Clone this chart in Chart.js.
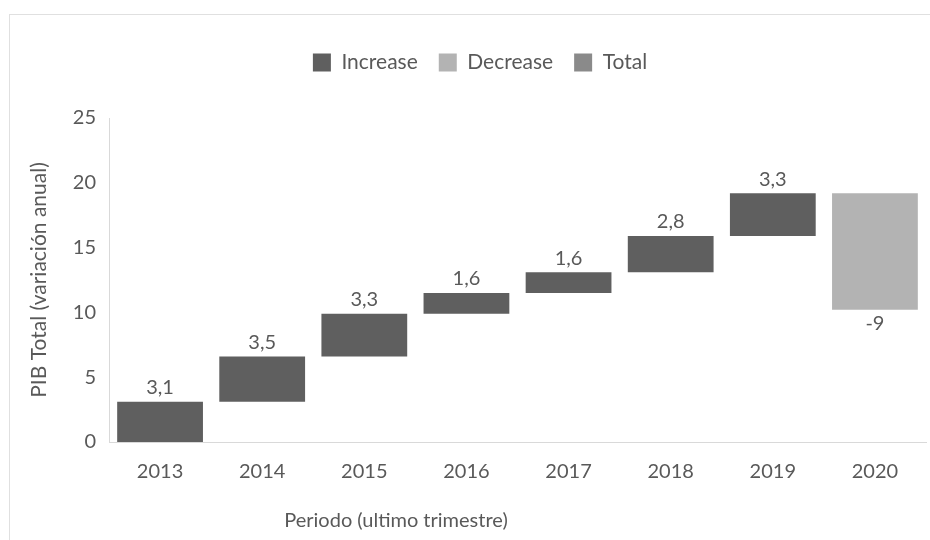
<!DOCTYPE html>
<html lang="es">
<head>
  <meta charset="UTF-8">
  <title>PIB Total - cascada</title>
  <script src="https://cdn.jsdelivr.net/npm/chart.js"></script>
  <style>
    html, body {
      margin: 0;
      padding: 0;
      background: #fff;
      overflow: hidden;
    }
    .frame {
      position: absolute;
      left: 9px;
      top: 14px;
      width: 1000px;
      height: 1000px;
      border: 1px solid #e0e0e0;
    }
    .wrap {
      position: absolute;
      left: 0;
      top: 0;
      width: 930px;
      height: 540px;
    }
  </style>
</head>
<body>
  <div class="frame"></div>
  <div class="wrap"><canvas id="chart" width="930" height="540"></canvas></div>

  <script>
    // data
    const years = ['2013', '2014', '2015', '2016', '2017', '2018', '2019', '2020'];
    const changes = [3.1, 3.5, 3.3, 1.6, 1.6, 2.8, 3.3, -9];
    const yTicks = [0, 5, 10, 15, 20, 25];

    const textColor = '#595959';
    const font = 'Lato';
    const xTitle = 'Periodo (ultimo trimestre)';

    // floating bars for the waterfall
    let running = 0;
    const incData = [], decData = [];
    changes.forEach(v => {
      const start = running;
      running += v;
      incData.push(v >= 0 ? [start, running] : null);
      decData.push(v < 0 ? [start, running] : null);
    });

    // labels above / below each step, plus the x title (it sits left of centre in the original)
    const stepLabels = {
      id: 'stepLabels',
      afterDatasetsDraw(chart) {
        const ctx = chart.ctx;
        ctx.save();
        ctx.font = '20px ' + font;
        ctx.fillStyle = textColor;
        ctx.textAlign = 'center';
        ctx.textBaseline = 'middle';
        [0, 1].forEach(di => {
          const meta = chart.getDatasetMeta(di);
          meta.data.forEach((bar, i) => {
            if (!chart.data.datasets[di].data[i]) return;
            const v = changes[i];
            const txt = String(v).replace('.', ',');
            const top = Math.min(bar.y, bar.base);
            const bottom = Math.max(bar.y, bar.base);
            if (v >= 0) ctx.fillText(txt, bar.x, top - 14);
            else ctx.fillText(txt, bar.x, bottom + 14);
          });
        });
        ctx.fillText(xTitle, 396, 521);
        ctx.restore();
      }
    };

    // push the plot down below the legend and nudge the legend right
    const legendSpace = {
      id: 'legendSpace',
      afterInit(chart) {
        const legend = chart.legend;
        const fit = legend.fit;
        legend.fit = function () {
          fit.call(this);
          this.height += 35;
        };
      },
      afterLayout(chart) {
        chart.legend.left += 12;
        chart.legend.right += 12;
      }
    };

    new Chart(document.getElementById('chart').getContext('2d'), {
      type: 'bar',
      data: {
        labels: years,
        datasets: [
          { label: 'Increase', data: incData, backgroundColor: '#5f5f5f' },
          { label: 'Decrease', data: decData, backgroundColor: '#b3b3b3' },
          { label: 'Total', data: [], backgroundColor: '#8a8a8a' }
        ]
      },
      options: {
        responsive: false,
        animation: false,
        datasets: {
          bar: { grouped: false, categoryPercentage: 1, barPercentage: 0.84 }
        },
        layout: { padding: { left: 10, right: 4, top: 31, bottom: 0 } },
        plugins: {
          legend: {
            position: 'top',
            labels: {
              font: { family: font, size: 21 },
              color: textColor,
              boxWidth: 18,
              boxHeight: 18,
              padding: 21
            }
          },
          tooltip: { enabled: false }
        },
        scales: {
          x: {
            grid: { display: false },
            border: { color: '#d9d9d9' },
            ticks: { color: textColor, font: { family: font, size: 20 }, padding: 10 },
            afterFit(scale) { scale.height = 98; }
          },
          y: {
            min: 0,
            max: 25,
            grid: { display: false },
            border: { color: '#d9d9d9' },
            afterBuildTicks(scale) { scale.ticks = yTicks.map(v => ({ value: v })); },
            ticks: { color: textColor, font: { family: font, size: 20 }, padding: 5 },
            title: {
              display: true,
              text: 'PIB Total (variación anual)',
              color: textColor,
              font: { family: font, size: 21 },
              padding: { top: 17, bottom: 0 }
            },
            afterFit(scale) { scale.width = 99; }
          }
        }
      },
      plugins: [stepLabels, legendSpace]
    });
  </script>
</body>
</html>
